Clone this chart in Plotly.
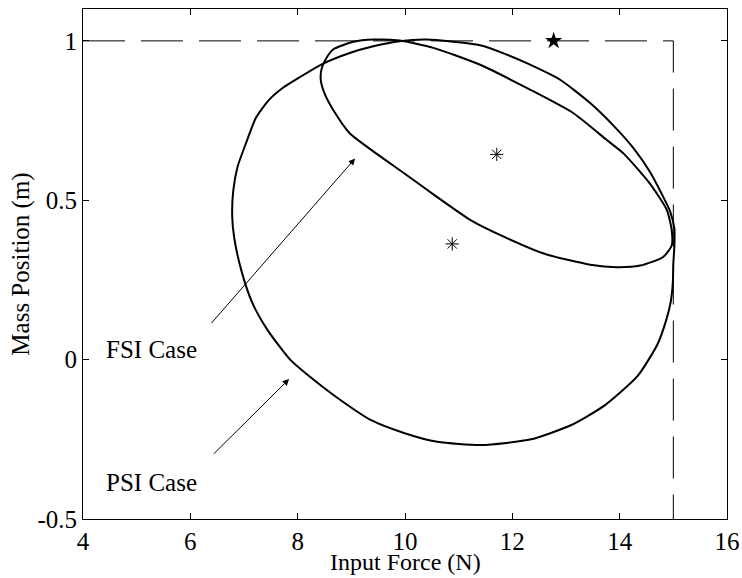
import plotly.graph_objects as go

# ---- data ----
# PSI case trajectory (large loop)
psi_x = [9.41, 9.90, 10.40, 10.90, 11.40, 11.85, 12.27, 12.89, 13.45, 13.88, 14.25, 14.56,
         14.78, 14.94, 15.02, 15.02, 15.00, 14.99, 14.95, 14.86, 14.71, 14.34, 13.70, 13.10,
         12.35, 11.42, 10.60, 9.98, 9.37, 8.66, 8.20, 7.86, 7.43, 7.15, 6.95, 6.82, 6.78,
         6.80, 6.88, 7.05, 7.22, 7.45, 7.72, 8.04, 8.43, 8.97, 9.41]
psi_y = [0.983, 0.999, 1.004, 0.997, 0.986, 0.960, 0.930, 0.878, 0.805, 0.735, 0.665, 0.590,
         0.521, 0.465, 0.410, 0.360, 0.300, 0.240, 0.180, 0.120, 0.050, -0.050, -0.146, -0.205,
         -0.250, -0.268, -0.258, -0.230, -0.190, -0.110, -0.050, 0.000, 0.095, 0.180, 0.280, 0.380, 0.450,
         0.530, 0.605, 0.685, 0.758, 0.812, 0.852, 0.886, 0.925, 0.962, 0.983]

# FSI case trajectory (elongated loop)
fsi_x = [8.43, 8.45, 8.55, 8.66, 9.04, 9.41, 9.90, 10.53, 11.40, 12.33, 13.14, 13.76, 14.07,
         14.56, 14.88, 14.97, 14.97, 14.81, 14.38, 13.94, 13.45, 12.60, 11.85, 11.23, 10.60,
         9.99, 9.37, 8.97, 8.66, 8.51, 8.43]
fsi_y = [0.878, 0.915, 0.950, 0.973, 0.997, 1.004, 1.001, 0.978, 0.925, 0.847, 0.773, 0.689, 0.647,
         0.553, 0.469, 0.406, 0.358, 0.322, 0.295, 0.290, 0.298, 0.332, 0.385, 0.437, 0.510,
         0.584, 0.658, 0.710, 0.784, 0.831, 0.878]

# constraint limits (dashed)
limit_x = [4, 15, 15]
limit_y = [1, 1, -0.5]

# centre markers (asterisks) and target (star)
center_x = [11.71, 10.88]
center_y = [0.644, 0.363]
target_x = [12.77]
target_y = [1.0]

# labels and arrows
label_text = ["FSI Case", "PSI Case"]
label_x = [5.28, 5.28]
label_y = [0.031, -0.385]
arrow_tail_x = [6.37, 6.41]
arrow_tail_y = [0.110, -0.300]
arrow_head_x = [9.07, 7.84]
arrow_head_y = [0.631, -0.061]

x_ticks = [4, 6, 8, 10, 12, 14, 16]
x_tick_text = ["4", "6", "8", "10", "12", "14", "16"]
y_ticks = [-0.5, 0, 0.5, 1]
y_tick_text = ["-0.5", "0", "0.5", "1"]
x_title = "Input Force (N)"
y_title = "Mass Position (m)"

FONT = "Liberation Serif"

fig = go.Figure()
fig.add_trace(go.Scatter(x=limit_x, y=limit_y, mode="lines",
                         line=dict(color="black", width=1, dash="42px,16px"),
                         hoverinfo="skip", showlegend=False))
fig.add_trace(go.Scatter(x=psi_x, y=psi_y, mode="lines",
                         line=dict(color="black", width=2, shape="spline", smoothing=0.6),
                         showlegend=False))
fig.add_trace(go.Scatter(x=fsi_x, y=fsi_y, mode="lines",
                         line=dict(color="black", width=2, shape="spline", smoothing=0.6),
                         showlegend=False))
fig.add_trace(go.Scatter(x=center_x, y=center_y, mode="markers",
                         marker=dict(symbol="asterisk-open", size=11, color="black",
                                     line=dict(color="black", width=1)),
                         showlegend=False))
fig.add_trace(go.Scatter(x=target_x, y=target_y, mode="markers",
                         marker=dict(symbol="star", size=13, color="black"),
                         showlegend=False))

for t, lx, ly in zip(label_text, label_x, label_y):
    fig.add_annotation(x=lx, y=ly, xref="x", yref="y", text=t, showarrow=False,
                       font=dict(family=FONT, size=25, color="black"),
                       xanchor="center", yanchor="middle")
for tx, ty, hx, hy in zip(arrow_tail_x, arrow_tail_y, arrow_head_x, arrow_head_y):
    fig.add_annotation(x=hx, y=hy, ax=tx, ay=ty, xref="x", yref="y", axref="x", ayref="y",
                       text="", showarrow=True, arrowhead=2, arrowsize=1.3,
                       arrowwidth=1, arrowcolor="black", standoff=0)

# x-axis title placed just below the tick labels
fig.add_annotation(x=0.5, y=0, xref="paper", yref="paper", text=x_title, showarrow=False,
                   xanchor="center", yanchor="top", yshift=-28,
                   font=dict(family=FONT, size=24, color="black"))

axis_common = dict(showline=True, linecolor="black", linewidth=1, mirror="ticks",
                   ticks="inside", ticklen=6, tickcolor="black", tickwidth=1,
                   showgrid=False, zeroline=False, automargin=False,
                   tickfont=dict(family=FONT, size=25, color="black"))

fig.update_xaxes(range=[4, 16], tickvals=x_ticks, ticktext=x_tick_text, **axis_common)
fig.update_yaxes(range=[-0.5, 1.1], tickvals=y_ticks, ticktext=y_tick_text,
                 title=dict(text=y_title, font=dict(family=FONT, size=25, color="black"),
                            standoff=0),
                 **axis_common)

fig.update_layout(width=742, height=578,
                  margin=dict(l=83, r=15, t=9, b=59, pad=0),
                  paper_bgcolor="white", plot_bgcolor="white",
                  showlegend=False)

fig.write_html("out.html")
